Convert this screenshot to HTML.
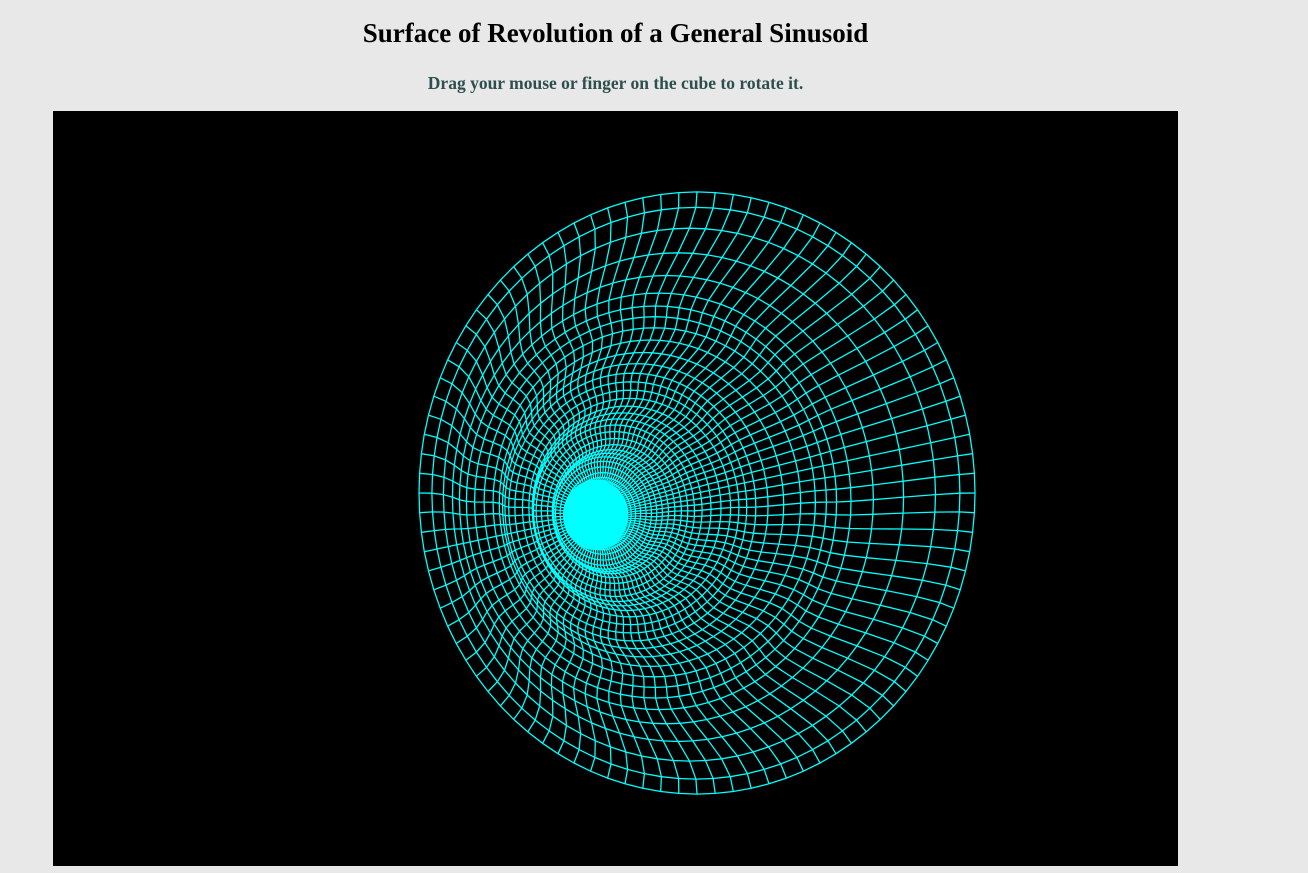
<!DOCTYPE html>
<html><head><meta charset="utf-8"><style>
html,body{margin:0;padding:0;background:#e8e8e8;width:1308px;height:873px;overflow:hidden}
#title{position:absolute;left:0;width:1231px;top:18px;text-align:center;font:bold 27px "Liberation Serif",serif;color:#000;margin:0}
#sub{position:absolute;left:0;width:1231px;top:73px;text-align:center;font:bold 17.5px "Liberation Serif",serif;color:#2f4f4f;margin:0}
#cv{position:absolute;left:53px;top:111px;width:1125px;height:755px;background:#000}
</style></head><body>
<h1 id="title">Surface of Revolution of a General Sinusoid</h1>
<p id="sub">Drag your mouse or finger on the cube to rotate it.</p>
<svg id="cv" width="1125" height="755" viewBox="0 0 1125 755">
<g id="mesh" fill="none" stroke="#00ffff" stroke-width="1.3"></g>
</svg>
<script>
// profile: r(t) = 1 - radialRate*(t + sin(2πt)/2π), h(t) = depthRate*(t - sin(2πt)/2π)
const radialRate = [0.16];
const depthRate = [0.35];
const tRange = [0, 4.7];
const ringCount = [32];
const spokeCount = [96];

const vpx = 536-53, vpy = 528-111;
const focal = 278;
const shiftX = 161, shiftY = -35;
const yStretch = 1.083;
const TP = 2*Math.PI;
function Rt(t){return 1-radialRate[0]*(t+Math.sin(TP*t)/TP);}
function Ht(t){return depthRate[0]*(t-Math.sin(TP*t)/TP);}
function proj(t,a){
  const r=Rt(t), s=1/(1+Ht(t));
  return [vpx+shiftX*s+focal*r*Math.cos(a)*s, vpy+shiftY*s+focal*yStretch*r*Math.sin(a)*s];
}
const g=document.getElementById('mesh');
const NR=ringCount[0], NS=spokeCount[0];
const ts=[];for(let i=0;i<=NR;i++)ts.push(tRange[0]+(tRange[1]-tRange[0])*i/NR);
const tEnd=tRange[1], sEnd=1/(1+Ht(tEnd));
const core=document.createElementNS('http://www.w3.org/2000/svg','ellipse');
core.setAttribute('cx',vpx+shiftX*sEnd);
core.setAttribute('cy',vpy+shiftY*sEnd);
core.setAttribute('rx',focal*Rt(tEnd)*sEnd+4);
core.setAttribute('ry',focal*yStretch*Rt(tEnd)*sEnd+4);
core.setAttribute('fill','#00ffff');


g.appendChild(core);
let d='';
for(const t of ts){
  for(let j=0;j<=NS;j++){const p=proj(t,TP*j/NS);d+=(j?'L':'M')+p[0].toFixed(1)+' '+p[1].toFixed(1);}
}
const rings=document.createElementNS('http://www.w3.org/2000/svg','path');
rings.setAttribute('d',d);


g.appendChild(rings);
let d2='';
for(let j=0;j<NS;j++){
  const a=TP*j/NS;
  ts.forEach((t,i)=>{const p=proj(t,a);d2+=(i?'L':'M')+p[0].toFixed(1)+' '+p[1].toFixed(1);});
}
const spokes=document.createElementNS('http://www.w3.org/2000/svg','path');
spokes.setAttribute('d',d2);


g.appendChild(spokes);
</script>
</body></html>
